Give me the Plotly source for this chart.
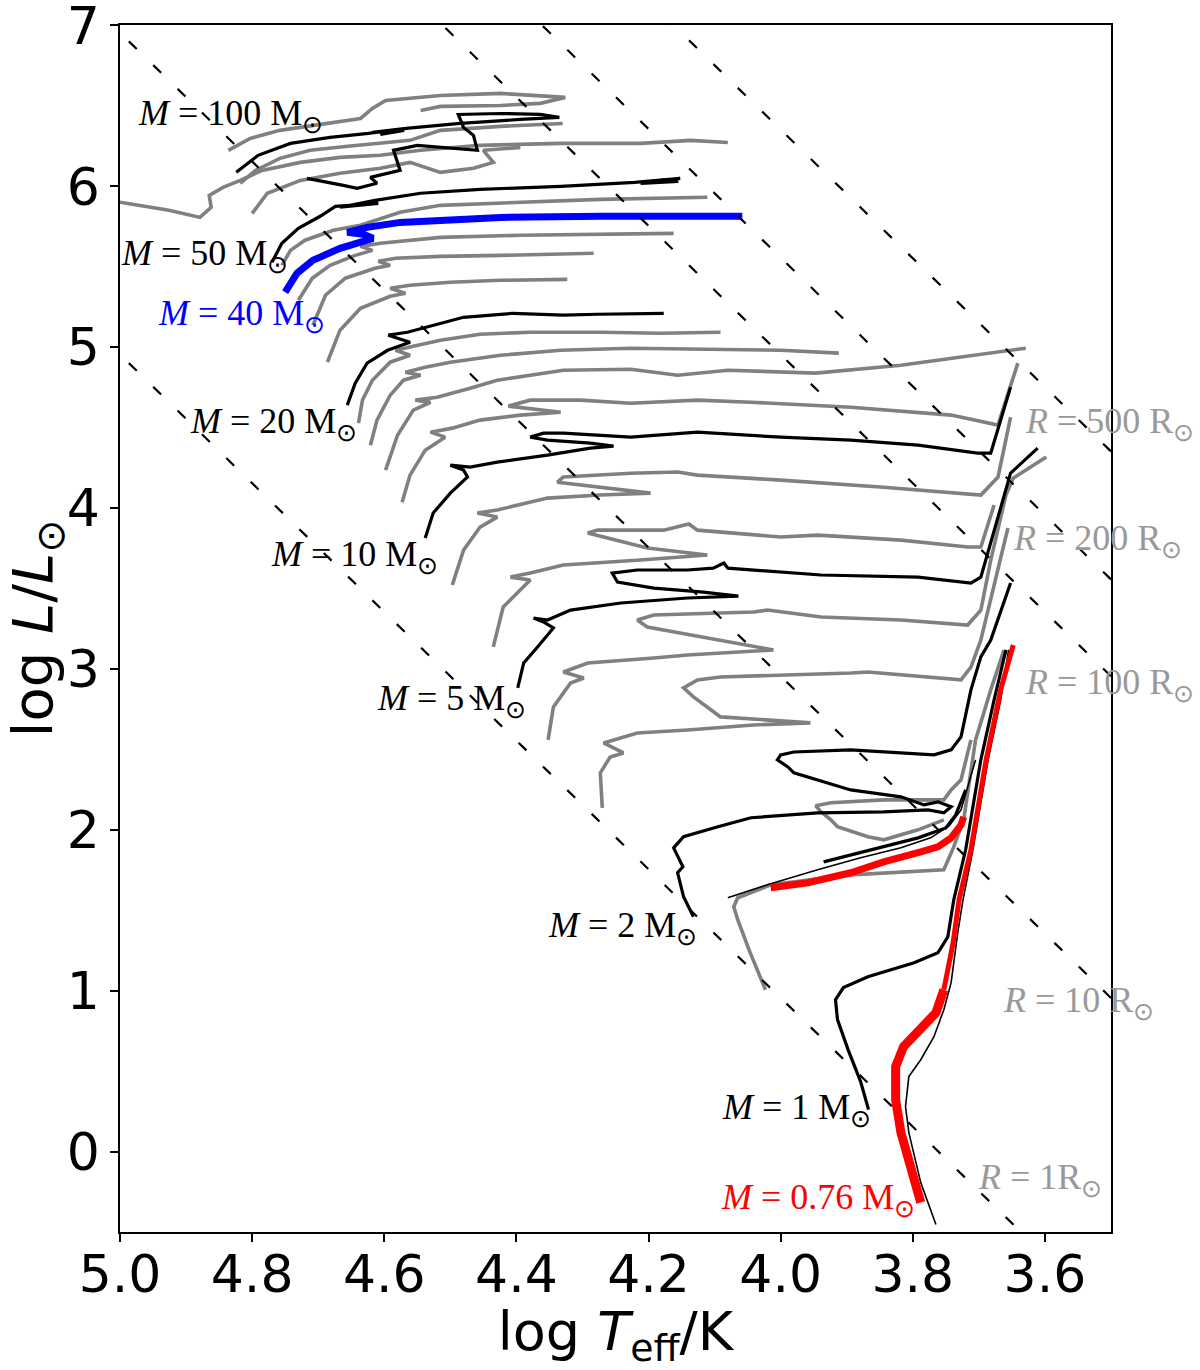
import numpy as np
import plotly.graph_objects as go

# Evolutionary tracks: log Teff [K] and log L [Lsun]
# black labelled tracks
m100_logt = [4.824, 4.791, 4.742, 4.682, 4.624, 4.567, 4.618, 4.570, 4.606, 4.567, 4.485, 4.394, 4.335,
             4.364, 4.424, 4.488, 4.480, 4.465, 4.459, 4.550, 4.586, 4.576, 4.621, 4.611, 4.641, 4.662, 4.717]
m100_logl = [6.087, 6.193, 6.267, 6.304, 6.329, 6.360, 6.335, 6.348, 6.323, 6.360, 6.391, 6.416, 6.429,
             6.447, 6.453, 6.447, 6.366, 6.317, 6.224, 6.255, 6.224, 6.099, 6.056, 6.019, 5.988, 6.006, 6.050]

m50_logt = [4.770, 4.755, 4.730, 4.697, 4.674, 4.609, 4.667, 4.614, 4.545, 4.455, 4.333, 4.221, 4.152,
            4.212, 4.155, 4.180]
m50_logl = [5.528, 5.646, 5.739, 5.814, 5.876, 5.894, 5.870, 5.913, 5.957, 5.981, 6.000, 6.025, 6.050,
            6.019, 6.031, 6.040]

m40_logt = [4.750, 4.732, 4.708, 4.667, 4.617, 4.632, 4.656, 4.626, 4.576, 4.424, 4.273, 4.058]
m40_logl = [5.342, 5.460, 5.540, 5.615, 5.677, 5.702, 5.714, 5.745, 5.776, 5.807, 5.814, 5.814]

m20_logt = [4.656, 4.644, 4.626, 4.595, 4.561, 4.594, 4.565, 4.535, 4.480, 4.405, 4.329, 4.277, 4.177]
m20_logl = [4.640, 4.776, 4.901, 4.981, 5.031, 5.075, 5.093, 5.124, 5.186, 5.211, 5.199, 5.205, 5.211]

m10_logt = [4.538, 4.526, 4.500, 4.474, 4.480, 4.500, 4.470, 4.429, 4.353, 4.288, 4.253, 4.288, 4.353,
            4.379, 4.359, 4.329, 4.227, 4.126, 4.000, 3.894, 3.792, 3.702, 3.682, 3.652]
m10_logl = [3.814, 3.969, 4.093, 4.193, 4.236, 4.267, 4.255, 4.286, 4.329, 4.373, 4.385, 4.404, 4.422,
            4.441, 4.466, 4.466, 4.441, 4.472, 4.441, 4.422, 4.391, 4.342, 4.342, 4.752]

m5_logt = [4.398, 4.389, 4.368, 4.344, 4.359, 4.374, 4.353, 4.318, 4.242, 4.141, 4.064, 4.117, 4.192,
           4.247, 4.255, 4.217, 4.141, 4.102, 4.086, 4.080, 3.939, 3.792, 3.712, 3.697, 3.652, 3.611]
m5_logl = [2.882, 3.037, 3.137, 3.255, 3.292, 3.317, 3.304, 3.366, 3.410, 3.441, 3.453, 3.478, 3.503,
           3.540, 3.596, 3.615, 3.615, 3.627, 3.658, 3.627, 3.584, 3.571, 3.534, 3.571, 4.217, 4.373]

m2_logt = [4.132, 4.147, 4.156, 4.148, 4.162, 4.147, 4.095, 4.045, 3.944, 3.844, 3.777, 3.753, 3.742,
           3.762, 3.783, 3.818, 3.894, 3.944, 3.980, 3.989, 4.005, 4.000, 3.980, 3.894, 3.768, 3.742,
           3.727, 3.712, 3.697, 3.682, 3.652]
m2_logl = [1.460, 1.584, 1.733, 1.770, 1.888, 1.957, 2.019, 2.075, 2.106, 2.112, 2.124, 2.106, 2.143,
           2.174, 2.155, 2.205, 2.248, 2.311, 2.354, 2.391, 2.435, 2.466, 2.484, 2.497, 2.466, 2.497,
           2.578, 2.870, 3.075, 3.180, 3.534]

m1_logt = [3.867, 3.879, 3.898, 3.914, 3.917, 3.905, 3.868, 3.798, 3.762, 3.747, 3.738, 3.720, 3.697,
           3.677, 3.659, None, 3.935, 3.905, 3.848, 3.792, 3.750, 3.735, 3.720]
m1_logl = [0.261, 0.435, 0.634, 0.820, 0.944, 1.019, 1.087, 1.174, 1.236, 1.335, 1.565, 1.876, 2.435,
           2.807, 3.118, None, 1.801, 1.832, 1.888, 1.950, 2.012, 2.093, 2.248]

# thin black companion of the 0.76 Msun model
thin_logt = [3.765, 3.788, 3.806, 3.811, 3.806, 3.788, 3.768, 3.753, 3.742, 3.732, 3.724, 3.709, 3.686,
             3.667, 3.655, None, 4.080, 4.020, 3.944, 3.879, 3.818, 3.773, 3.745, 3.727, 3.705]
thin_logl = [-0.453, -0.193, 0.118, 0.280, 0.466, 0.571, 0.714, 0.882, 1.050, 1.360, 1.565, 1.876, 2.435,
             2.807, 3.118, None, 1.578, 1.658, 1.752, 1.826, 1.888, 1.950, 2.025, 2.124, 2.435]

# red 0.76 Msun track: main sequence / red giant branch, then horizontal branch
m076_ms_logt = [3.788, 3.803, 3.818, 3.826, 3.826, 3.814, 3.788, 3.765, 3.753]
m076_ms_logl = [-0.317, -0.093, 0.118, 0.323, 0.528, 0.652, 0.758, 0.863, 1.006]
m076_rgb_logt = [3.753, 3.739, 3.730, 3.712, 3.689, 3.667, 3.648]
m076_rgb_logl = [1.006, 1.298, 1.565, 1.876, 2.435, 2.870, 3.149]
m076_hb_logt = [4.015, 3.959, 3.894, 3.844, 3.788, 3.762, 3.742, 3.727, 3.723]
m076_hb_logl = [1.640, 1.671, 1.733, 1.801, 1.863, 1.894, 1.950, 2.031, 2.081]

# grey (unlabelled) tracks
g_left_logt = [5.000, 4.926, 4.879, 4.862, 4.865, 4.844, 4.818, 4.785, 4.727, 4.667, 4.606, 4.545, 4.455,
               4.333, 4.212, 4.136, 4.080]
g_left_logl = [5.901, 5.851, 5.807, 5.870, 5.944, 5.994, 6.037, 6.099, 6.149, 6.180, 6.193, 6.224, 6.255,
               6.267, 6.267, 6.286, 6.273]
g1_logt = [4.836, 4.803, 4.758, 4.697, 4.636, 4.618, 4.598, 4.515, 4.424, 4.326, 4.364, 4.424, 4.515, 4.545]
g1_logl = [6.224, 6.298, 6.348, 6.385, 6.422, 6.484, 6.534, 6.565, 6.578, 6.553, 6.516, 6.503, 6.497, 6.472]
g2_logt = [4.818, 4.795, 4.758, 4.712, 4.659, 4.598, 4.561, 4.515, 4.424, 4.330]
g2_logl = [6.019, 6.099, 6.174, 6.224, 6.248, 6.273, 6.286, 6.348, 6.373, 6.391]
g3_logt = [4.800, 4.777, 4.727, 4.667, 4.606, 4.561, 4.515, 4.465, 4.435, 4.450, 4.394]
g3_logl = [5.832, 5.957, 6.037, 6.081, 6.112, 6.149, 6.087, 6.112, 6.149, 6.224, 6.242]
g4_logt = [4.755, 4.742, 4.720, 4.677, 4.636, 4.576, 4.515, 4.394, 4.273, 4.111]
g4_logl = [5.509, 5.602, 5.665, 5.727, 5.758, 5.839, 5.882, 5.901, 5.919, 5.932]
g5_logt = [4.730, 4.709, 4.682, 4.644, 4.618, 4.636, 4.606, 4.515, 4.394, 4.273, 4.162]
g5_logl = [5.292, 5.429, 5.509, 5.571, 5.602, 5.627, 5.646, 5.683, 5.696, 5.702, 5.708]
g6_logt = [4.708, 4.689, 4.659, 4.614, 4.591, 4.609, 4.583, 4.515, 4.424, 4.283]
g6_logl = [5.137, 5.323, 5.429, 5.491, 5.509, 5.534, 5.553, 5.565, 5.571, 5.584]
g7_logt = [4.686, 4.667, 4.636, 4.591, 4.568, 4.591, 4.561, 4.500, 4.424, 4.323]
g7_logl = [4.907, 5.106, 5.242, 5.317, 5.335, 5.366, 5.385, 5.404, 5.416, 5.422]
g8_logt = [4.639, 4.633, 4.618, 4.591, 4.561, 4.583, 4.556, 4.515, 4.455, 4.379, 4.273, 4.182, 4.091]
g8_logl = [4.528, 4.671, 4.795, 4.907, 4.950, 4.981, 5.006, 5.043, 5.081, 5.093, 5.093, 5.087, 5.093]
g9_logt = [4.621, 4.611, 4.591, 4.571, 4.545, 4.568, 4.538, 4.500, 4.424, 4.333, 4.227, 4.121, 4.000, 3.912]
g9_logl = [4.391, 4.547, 4.702, 4.795, 4.826, 4.845, 4.876, 4.907, 4.950, 4.981, 4.994, 4.988, 4.981, 4.963]
g10_logt = [4.598, 4.580, 4.556, 4.530, 4.553, 4.520, 4.470, 4.429, 4.329, 4.227, 4.156, 4.080, 3.947,
            3.818, 3.629]
g10_logl = [4.236, 4.453, 4.609, 4.658, 4.671, 4.689, 4.745, 4.795, 4.857, 4.863, 4.826, 4.857, 4.839,
            4.888, 4.994]
g11_logt = [4.573, 4.561, 4.538, 4.508, 4.530, 4.497, 4.455, 4.394, 4.333, 4.379, 4.412, 4.379, 4.303,
            4.227, 4.126, 4.045, 3.894, 3.742, 3.671, 3.659, 3.641]
g11_logl = [4.037, 4.205, 4.360, 4.441, 4.472, 4.497, 4.547, 4.578, 4.596, 4.615, 4.634, 4.671, 4.671,
            4.652, 4.671, 4.658, 4.627, 4.578, 4.516, 4.671, 4.901]
g12_logt = [4.497, 4.480, 4.455, 4.429, 4.459, 4.429, 4.353, 4.273, 4.197, 4.277, 4.338, 4.329, 4.227,
            4.156, 4.126, 4.000, 3.844, 3.697, 3.671, 3.652]
g12_logl = [3.522, 3.739, 3.882, 3.944, 3.969, 3.988, 4.062, 4.081, 4.093, 4.130, 4.161, 4.193, 4.217,
            4.224, 4.205, 4.174, 4.130, 4.081, 4.193, 4.565]
g13_logt = [4.435, 4.420, 4.379, 4.409, 4.379, 4.329, 4.212, 4.111, 4.202, 4.292, 4.277, 4.177, 4.139,
            4.126, 4.000, 3.944, 3.818, 3.717, 3.697, 3.677]
g13_logl = [3.137, 3.385, 3.553, 3.571, 3.596, 3.646, 3.677, 3.708, 3.752, 3.845, 3.863, 3.863, 3.901,
            3.863, 3.820, 3.832, 3.801, 3.758, 3.758, 4.019]
g14_logt = [4.352, 4.344, 4.318, 4.298, 4.329, 4.292, 4.192, 4.141, 4.011, 4.091, 4.202, 4.217, 4.192,
            4.041, 4.020, 3.939, 3.818, 3.717, 3.697, 3.682, 3.659, 3.648, 3.598]
g14_logl = [2.559, 2.764, 2.913, 2.944, 2.981, 3.037, 3.068, 3.087, 3.118, 3.180, 3.261, 3.304, 3.335,
            3.354, 3.366, 3.323, 3.304, 3.273, 3.366, 3.677, 4.081, 4.186, 4.317]
g15_logt = [4.270, 4.273, 4.258, 4.238, 4.268, 4.217, 4.141, 4.041, 3.955, 4.091, 4.132, 4.147, 4.126,
            4.091, 3.894, 3.868, 3.727, 3.712, 3.697, 3.682, 3.667, 3.656]
g15_logl = [2.137, 2.354, 2.453, 2.478, 2.540, 2.602, 2.621, 2.652, 2.665, 2.702, 2.826, 2.882, 2.932,
            2.950, 2.975, 2.981, 2.932, 3.012, 3.180, 3.429, 3.677, 3.876]
g16_logt = [4.023, 4.048, 4.065, 4.071, 4.065, 4.015, 3.894, 3.753, 3.738, 3.723, 3.705, 3.682, 3.662,
            None, 3.753, 3.792, 3.844, 3.868, 3.914, 3.924, 3.939, 3.947, 3.924, 3.844, 3.753, 3.742,
            3.727, 3.712]
g16_logl = [1.006, 1.255, 1.441, 1.522, 1.578, 1.658, 1.720, 1.752, 1.894, 2.062, 2.559, 2.870, 3.118,
            None, 2.062, 2.000, 1.938, 1.957, 2.019, 2.062, 2.112, 2.149, 2.168, 2.186, 2.186, 2.248,
            2.311, 2.559]

grey_tracks = [
    (g_left_logt, g_left_logl), (g1_logt, g1_logl), (g2_logt, g2_logl), (g3_logt, g3_logl),
    (g4_logt, g4_logl), (g5_logt, g5_logl), (g6_logt, g6_logl), (g7_logt, g7_logl),
    (g8_logt, g8_logl), (g9_logt, g9_logl), (g10_logt, g10_logl), (g11_logt, g11_logl),
    (g12_logt, g12_logl), (g13_logt, g13_logl), (g14_logt, g14_logl), (g15_logt, g15_logl),
    (g16_logt, g16_logl),
]
black_tracks = [
    (m100_logt, m100_logl), (m50_logt, m50_logl), (m20_logt, m20_logl), (m10_logt, m10_logl),
    (m5_logt, m5_logl), (m2_logt, m2_logl), (m1_logt, m1_logl),
]

# constant-radius lines
radii = [1, 10, 100, 200, 500]
LOG_TSUN = np.log10(5772.0)

# labels
mass_labels = ["100", "50", "40", "20", "10", "5", "2", "1", "0.76"]
radius_labels = ["500 R", "200 R", "100 R", "10 R", "1R"]

fig = go.Figure()

for t, l in grey_tracks:
    fig.add_trace(go.Scatter(x=t, y=l, mode="lines", line=dict(color="#808080", width=3.6)))

for t, l in black_tracks:
    fig.add_trace(go.Scatter(x=t, y=l, mode="lines", line=dict(color="black", width=3.2)))

fig.add_trace(go.Scatter(x=thin_logt, y=thin_logl, mode="lines", line=dict(color="black", width=1.6)))

fig.add_trace(go.Scatter(x=m40_logt, y=m40_logl, mode="lines", line=dict(color="#0000ff", width=7)))

fig.add_trace(go.Scatter(x=m076_ms_logt, y=m076_ms_logl, mode="lines", line=dict(color="#ff0000", width=9)))
fig.add_trace(go.Scatter(x=m076_rgb_logt, y=m076_rgb_logl, mode="lines", line=dict(color="#ff0000", width=5)))
fig.add_trace(go.Scatter(x=m076_hb_logt, y=m076_hb_logl, mode="lines", line=dict(color="#ff0000", width=7)))

edge_t = np.array([3.5, 5.0])
for r in radii:
    fig.add_trace(go.Scatter(
        x=edge_t, y=2 * np.log10(r) + 4 * (edge_t - LOG_TSUN), mode="lines",
        line=dict(color="black", width=2.2, dash="11px,23px"),
    ))

# label placement: mass labels by right edge, radius labels by left edge (data coords)
mass_pos = [(4.689, 6.441), (4.742, 5.571), (4.686, 5.199), (4.639, 4.528), (4.515, 3.702),
            (4.383, 2.807), (4.124, 1.391), (3.861, 0.261), (3.794, -0.298)]
mass_col = ["black", "black", "#0000ff", "black", "black", "black", "black", "black", "#ff0000"]
radius_pos = [(3.633, 4.528), (3.652, 3.801), (3.633, 2.901), (3.667, 0.925), (3.705, -0.174)]

annotations = []
for lab, (x, y), c in zip(mass_labels, mass_pos, mass_col):
    annotations.append(dict(
        x=x, y=y, xref="x", yref="y", xanchor="right", yanchor="middle", showarrow=False,
        text=f"<i>M</i> = {lab} M<sub>⊙</sub>",
        font=dict(family="Liberation Serif", size=36, color=c),
    ))
for lab, (x, y) in zip(radius_labels, radius_pos):
    annotations.append(dict(
        x=x, y=y, xref="x", yref="y", xanchor="left", yanchor="middle", showarrow=False,
        text=f"<i>R</i> = {lab}<sub>⊙</sub>",
        font=dict(family="Liberation Serif", size=36, color="#999999"),
    ))

axis_style = dict(
    showgrid=False, zeroline=False, showline=True, mirror=True, linecolor="black", linewidth=1.5,
    ticks="outside", ticklen=8, tickwidth=1.5, tickcolor="black", ticklabeloverflow="allow",
    automargin=False,
    tickfont=dict(family="DejaVu Sans", size=52, color="black"),
)

fig.update_layout(
    width=1200,
    height=1370,
    margin=dict(l=120, r=89, t=25, b=138),
    plot_bgcolor="white",
    paper_bgcolor="white",
    showlegend=False,
    annotations=annotations,
    xaxis=dict(
        range=[5.0, 3.5], dtick=0.2, tick0=3.6, tickformat=".1f", ticklabelstandoff=-12,
        title=dict(text="log <i>T</i><sub>eff</sub>/K",
                   font=dict(family="DejaVu Sans", size=54, color="black"), standoff=2),
        **axis_style,
    ),
    yaxis=dict(
        range=[-0.5, 7.003], dtick=1, tick0=0,
        title=dict(text="log <i>L</i>/<i>L</i><sub>⊙</sub>",
                   font=dict(family="DejaVu Sans", size=56, color="black"), standoff=4),
        **axis_style,
    ),
)

# drop the default page margin so the figure sits flush with the window
fig.write_html("out.html", config={"displayModeBar": False},
               post_script="document.body.style.margin = '0';")
